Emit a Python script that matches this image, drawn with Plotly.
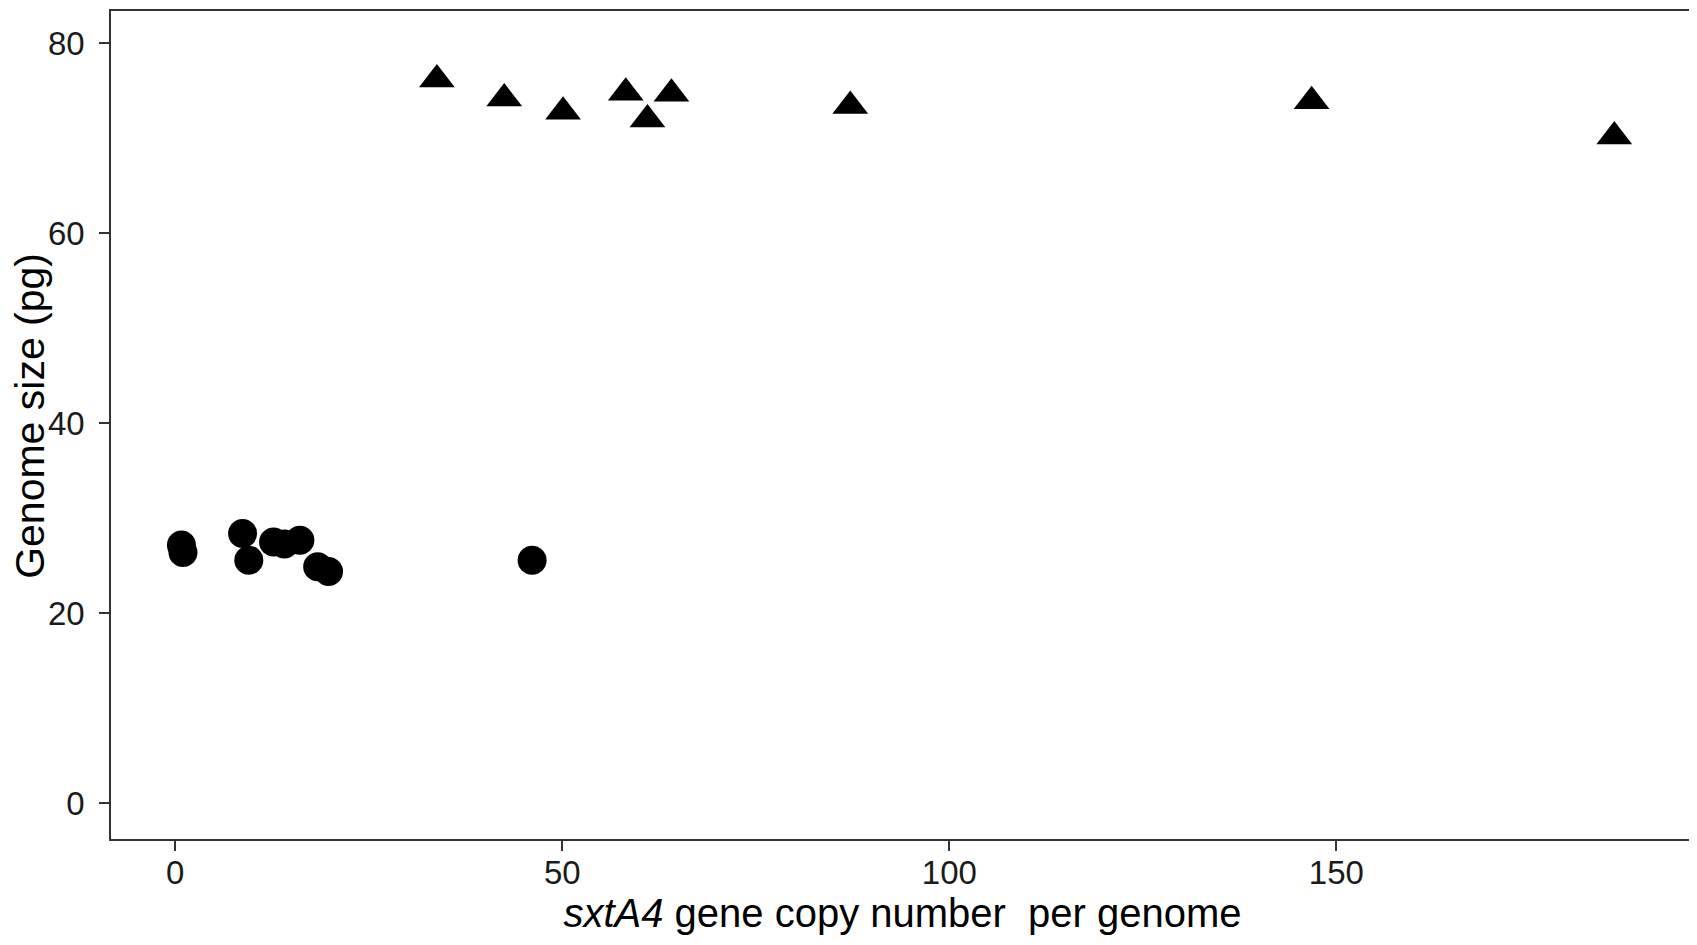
import plotly.graph_objects as go

# Circles (lower group)
circle_x = [0.8, 1.0, 8.7, 9.5, 12.7, 14.1, 16.1, 18.4, 19.8, 46.1]
circle_y = [27.2, 26.4, 28.4, 25.6, 27.5, 27.3, 27.7, 24.9, 24.4, 25.6]

# Triangles (upper group)
tri_x = [33.8, 42.5, 50.1, 58.2, 61.0, 64.1, 87.2, 146.8, 185.9]
tri_y = [76.2, 74.2, 72.8, 74.8, 72.0, 74.7, 73.4, 73.9, 70.2]

x_ticks = [0, 50, 100, 150]
y_ticks = [0, 20, 40, 60, 80]

FONT = "Liberation Sans, Arial, Helvetica, sans-serif"

fig = go.Figure()
fig.add_trace(go.Scatter(
    x=circle_x, y=circle_y, mode="markers",
    marker=dict(symbol="circle", size=29, color="black", line=dict(width=0)),
    showlegend=False,
))
fig.add_trace(go.Scatter(
    x=tri_x, y=tri_y, mode="markers",
    marker=dict(symbol="triangle-up", size=31, color="black", line=dict(width=0)),
    showlegend=False,
))

axis_common = dict(
    showgrid=False, zeroline=False,
    showline=True, mirror=True, linecolor="#333333", linewidth=1.6,
    ticks="outside", ticklen=10, tickwidth=2, tickcolor="#333333",
    tickfont=dict(family=FONT, size=33, color="#1a1a1a"),
)

fig.update_layout(
    width=1689, height=937,
    margin=dict(l=103, r=3, t=1, b=106),
    paper_bgcolor="white", plot_bgcolor="white",
    xaxis=dict(
        range=[-8.3, 196.2], tickvals=x_ticks, ticklabelstandoff=-6,
        title=dict(text="<i>sxtA4</i> gene copy number\u00a0 per genome",
                   font=dict(family=FONT, size=40, color="black"), standoff=6),
        **axis_common,
    ),
    yaxis=dict(
        range=[-3.755, 83.41], tickvals=y_ticks, ticklabelstandoff=8,
        **axis_common,
    ),
    annotations=[dict(
        text="Genome size (pg)", textangle=-90,
        xref="paper", yref="paper", x=-0.0512, y=0.511,
        xanchor="center", yanchor="middle", showarrow=False,
        font=dict(family=FONT, size=41, color="black"),
    )],
)

fig.write_html("out.html")
